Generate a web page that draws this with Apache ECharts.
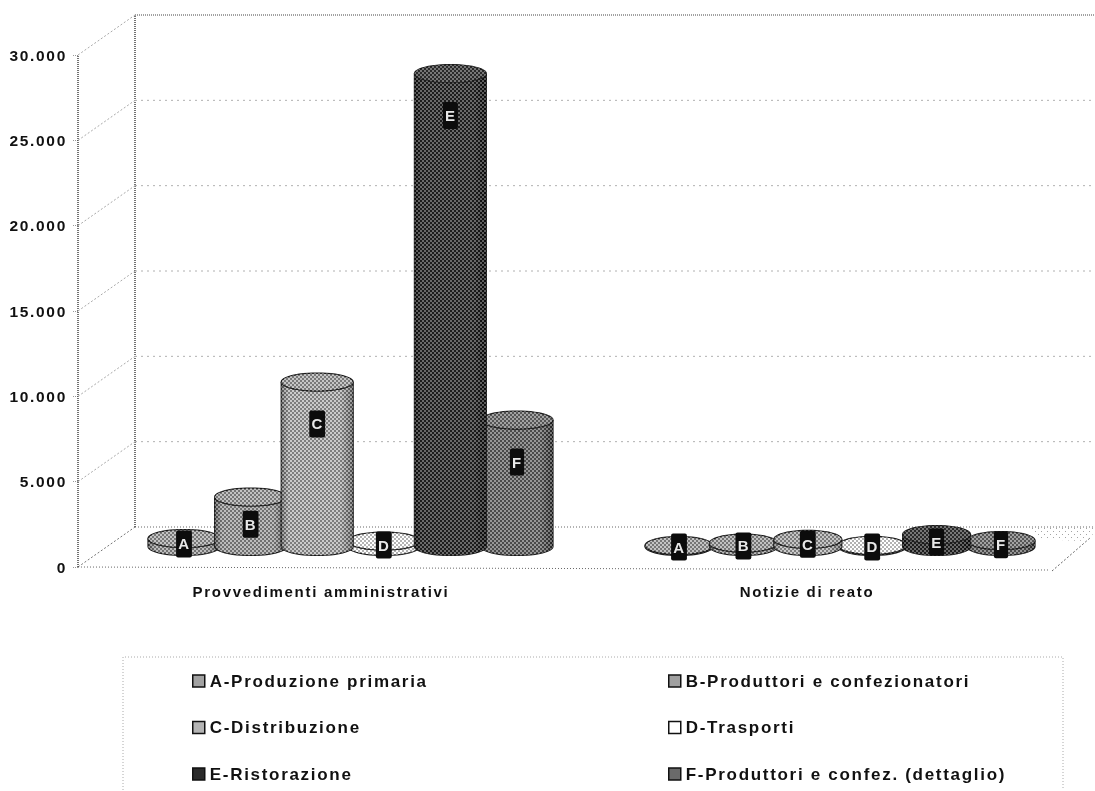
<!DOCTYPE html>
<html>
<head>
<meta charset="utf-8">
<style>
html,body{margin:0;padding:0;background:#fff}
#c{width:1095px;height:791px;filter:blur(0.5px)}
#c svg text{letter-spacing:1.7px}
</style>
<script src="https://cdn.jsdelivr.net/npm/echarts@6/dist/echarts.min.js"></script>
</head>
<body>
<div id="c"></div>
<script>
const categories = ['Provvedimenti amministrativi', 'Notizie di reato'];
const seriesNames = ['A-Produzione primaria','B-Produttori e confezionatori','C-Distribuzione','D-Trasporti','E-Ristorazione','F-Produttori e confez. (dettaglio)'];
const letters = ['A','B','C','D','E','F'];
const valuesA = [470, 60];
const valuesB = [2900, 200];
const valuesC = [9640, 420];
const valuesD = [320, 70];
const valuesE = [27710, 700];
const valuesF = [7410, 350];
const ticks = [0, 5000, 10000, 15000, 20000, 25000, 30000];

const allValues = [valuesA, valuesB, valuesC, valuesD, valuesE, valuesF];
const sideColors = ['#a2a2a2','#a0a0a0','#b4b4b4','#ffffff','#2a2a2a','#6a6a6a'];
const edgeColors = ['#5e5e5e','#555555','#6c6c6c','#d8d8d8','#0e0e0e','#333333'];
const topColors  = ['#aaaaaa','#a8a8a8','#aeaeae','#ffffff','#3c3c3c','#7a7a7a'];

const DX = 57, DY = 40;
const groupStep = [66.6, 64.4], groupShift = [29.5, 33], groupRx = [36, 34];
const RY = 9;

function checker(alpha) {
  const cv = document.createElement('canvas');
  cv.width = 4; cv.height = 4;
  const g = cv.getContext('2d');
  g.fillStyle = 'rgba(0,0,0,' + alpha + ')';
  g.fillRect(0,0,2,2); g.fillRect(2,2,2,2);
  g.fillStyle = 'rgba(255,255,255,' + alpha + ')';
  g.fillRect(2,0,2,2); g.fillRect(0,2,2,2);
  return cv;
}
const hatch = checker(0.3);
function stipple() {
  const cv = document.createElement('canvas');
  cv.width = 6; cv.height = 6;
  const g = cv.getContext('2d');
  g.fillStyle = 'rgba(90,90,90,0.55)';
  g.fillRect(0,0,1,1); g.fillRect(3,3,1,1);
  return cv;
}
const dots = stipple();

function arc(cx, cy, rx, ry, a0, a1, n) {
  const pts = [];
  for (let i = 0; i <= n; i++) {
    const a = a0 + (a1 - a0) * i / n;
    pts.push([cx + rx * Math.cos(a), cy + ry * Math.sin(a)]);
  }
  return pts;
}

function cylinder(idx) {
  return function (params, api) {
    const cat = api.value(0), val = api.value(1);
    const top = api.coord([cat, val]), base = api.coord([cat, 0]);
    const cx = top[0] + groupShift[cat] + groupStep[cat] * (idx - 2.5);
    const rx = groupRx[cat];
    const yTop = top[1] - DY / 2 - 0.5, yBase = base[1] - DY / 2 - 0.5;
    const bodyPts = arc(cx, yBase, rx, RY, 0, Math.PI, 24).concat(arc(cx, yTop, rx, RY, Math.PI, 0, 24));
    const lid = arc(cx, yTop, rx, RY, 0, Math.PI * 2, 48);
    const grad = {type:'linear', x:0, y:0, x2:1, y2:0, colorStops:[
      {offset:0, color:edgeColors[idx]},{offset:0.1, color:sideColors[idx]},
      {offset:0.82, color:sideColors[idx]},{offset:1, color:edgeColors[idx]}]};
    const labelY = yTop + Math.min(42, (yBase - yTop) * 0.55) + (val < 1000 ? 1 : 0);
    return {
      type:'group',
      children:[
        {type:'polygon', shape:{points:bodyPts}, style:{fill:grad, stroke:'#1c1c1c', lineWidth:1.2}},
        {type:'polygon', shape:{points:bodyPts}, style:{fill:{image:hatch, repeat:'repeat'}}},
        {type:'polygon', shape:{points:lid}, style:{fill:topColors[idx], stroke:'#1c1c1c', lineWidth:1.2}},
        {type:'polygon', shape:{points:lid}, style:{fill:{image:hatch, repeat:'repeat'}}},
        {type:'text', z2:10, style:{x:cx, y:labelY, text:letters[idx], align:'center', verticalAlign:'middle',
          fill:'#e8e8e8', font:'bold 15px "Liberation Sans"', backgroundColor:'#0c0c0c',
          padding:[6,2,6,3], borderRadius:2}}
      ]
    };
  };
}

function walls(params, api) {
  const v = api.value(1);
  const cs = params.coordSys;
  const y = api.coord([0, v])[1];
  const x0 = cs.x, x1 = cs.x + cs.width;
  const strong = v === 30000;
  const children = [
    {type:'polyline', shape:{points:[[x0,y],[x0+DX,y-DY]]},
      style:{stroke: v === 0 ? '#777' : '#aaa', lineWidth:1, lineDash:[2,2], fill:null}},
    {type:'polyline', shape:{points:[[x0+DX,y-DY],[x1+DX,y-DY]]},
      style:{stroke: strong ? '#444' : (v === 0 ? '#666' : '#b0b0b0'), lineWidth:1,
        lineDash: strong ? [1,1] : (v === 0 ? [1,2] : [2,4]), fill:null}}
  ];
  if (v === 0) {
    children.push({type:'polygon', shape:{points:[[x1-20,y-DY],[x1+DX,y-DY],[x1+30,y-DY+14],[x1-10,y-DY+12]]},
      style:{fill:{image:dots, repeat:'repeat'}}});
    children.push({type:'polyline', shape:{points:[[x0,y],[x1,y+3]]}, style:{stroke:'#666', lineWidth:1, lineDash:[1,2], fill:null}});
    children.push({type:'polyline', shape:{points:[[x1+2,y+4],[x1+40,y-29]]}, style:{stroke:'#666', lineWidth:1, lineDash:[2,2], fill:null}});
    const top = api.coord([0, ticks[ticks.length-1]])[1];
    children.push({type:'polyline', shape:{points:[[x0,y],[x0,top]]}, style:{stroke:'#444', lineWidth:1.5, lineDash:[1,1], fill:null}});
    children.push({type:'polyline', shape:{points:[[x0+DX,y-DY],[x0+DX,top-DY]]}, style:{stroke:'#444', lineWidth:1.5, lineDash:[1,1], fill:null}});
  }
  return {type:'group', children};
}

const chart = echarts.init(document.getElementById('c'), null, {renderer:'svg'});
const series = [{
  type:'custom', name:'walls', silent:true, z:1, renderItem:walls,
  data:ticks.map(t => [0, t]), encode:{x:0, y:1}
}];
seriesNames.forEach((n, i) => series.push({
  type:'custom', name:n, z: i === 4 ? 4 : (i === 2 ? 3 : 2), renderItem:cylinder(i),
  itemStyle:{color:sideColors[i]},
  data:allValues[i].map((v, c) => [c, v]), encode:{x:0, y:1}
}));

const legendBase = {
  orient:'vertical', itemWidth:12, itemHeight:12, itemGap:28.5, icon:'rect',
  selectedMode:false, padding:0,
  itemStyle:{borderColor:'#111', borderWidth:1.5},
  textStyle:{color:'#111', fontFamily:'Liberation Sans', fontWeight:'bold', fontSize:17, lineHeight:18}
};

chart.setOption({
  animation:false,
  backgroundColor:'#fff',
  grid:{left:78, right:45, top:55, bottom:224},
  xAxis:{type:'category', data:categories, axisLine:{show:false}, axisTick:{show:false},
    axisLabel:{margin:17, color:'#111', fontFamily:'Liberation Sans', fontWeight:'bold', fontSize:15}},
  yAxis:{type:'value', min:0, max:30000, interval:5000, splitLine:{show:false},
    axisLine:{show:false}, axisTick:{show:true, length:6, lineStyle:{color:'#999', type:'dotted'}},
    axisLabel:{margin:11, color:'#111', fontFamily:'Liberation Sans', fontWeight:'bold', fontSize:15.5,
      formatter:v => String(v).replace(/\B(?=(\d{3})+$)/g, '.')}},
  legend:[
    Object.assign({}, legendBase, {left:192, top:672, data:[seriesNames[0],seriesNames[2],seriesNames[4]]}),
    Object.assign({}, legendBase, {left:668, top:672, data:[seriesNames[1],seriesNames[3],seriesNames[5]]})
  ],
  graphic:[{type:'polyline', silent:true, shape:{points:[[123,790],[123,657],[1063,657],[1063,790]]},
    style:{stroke:'#aaa', lineWidth:1, lineDash:[1,2], fill:null}}],
  series
});
</script>
</body>
</html>
